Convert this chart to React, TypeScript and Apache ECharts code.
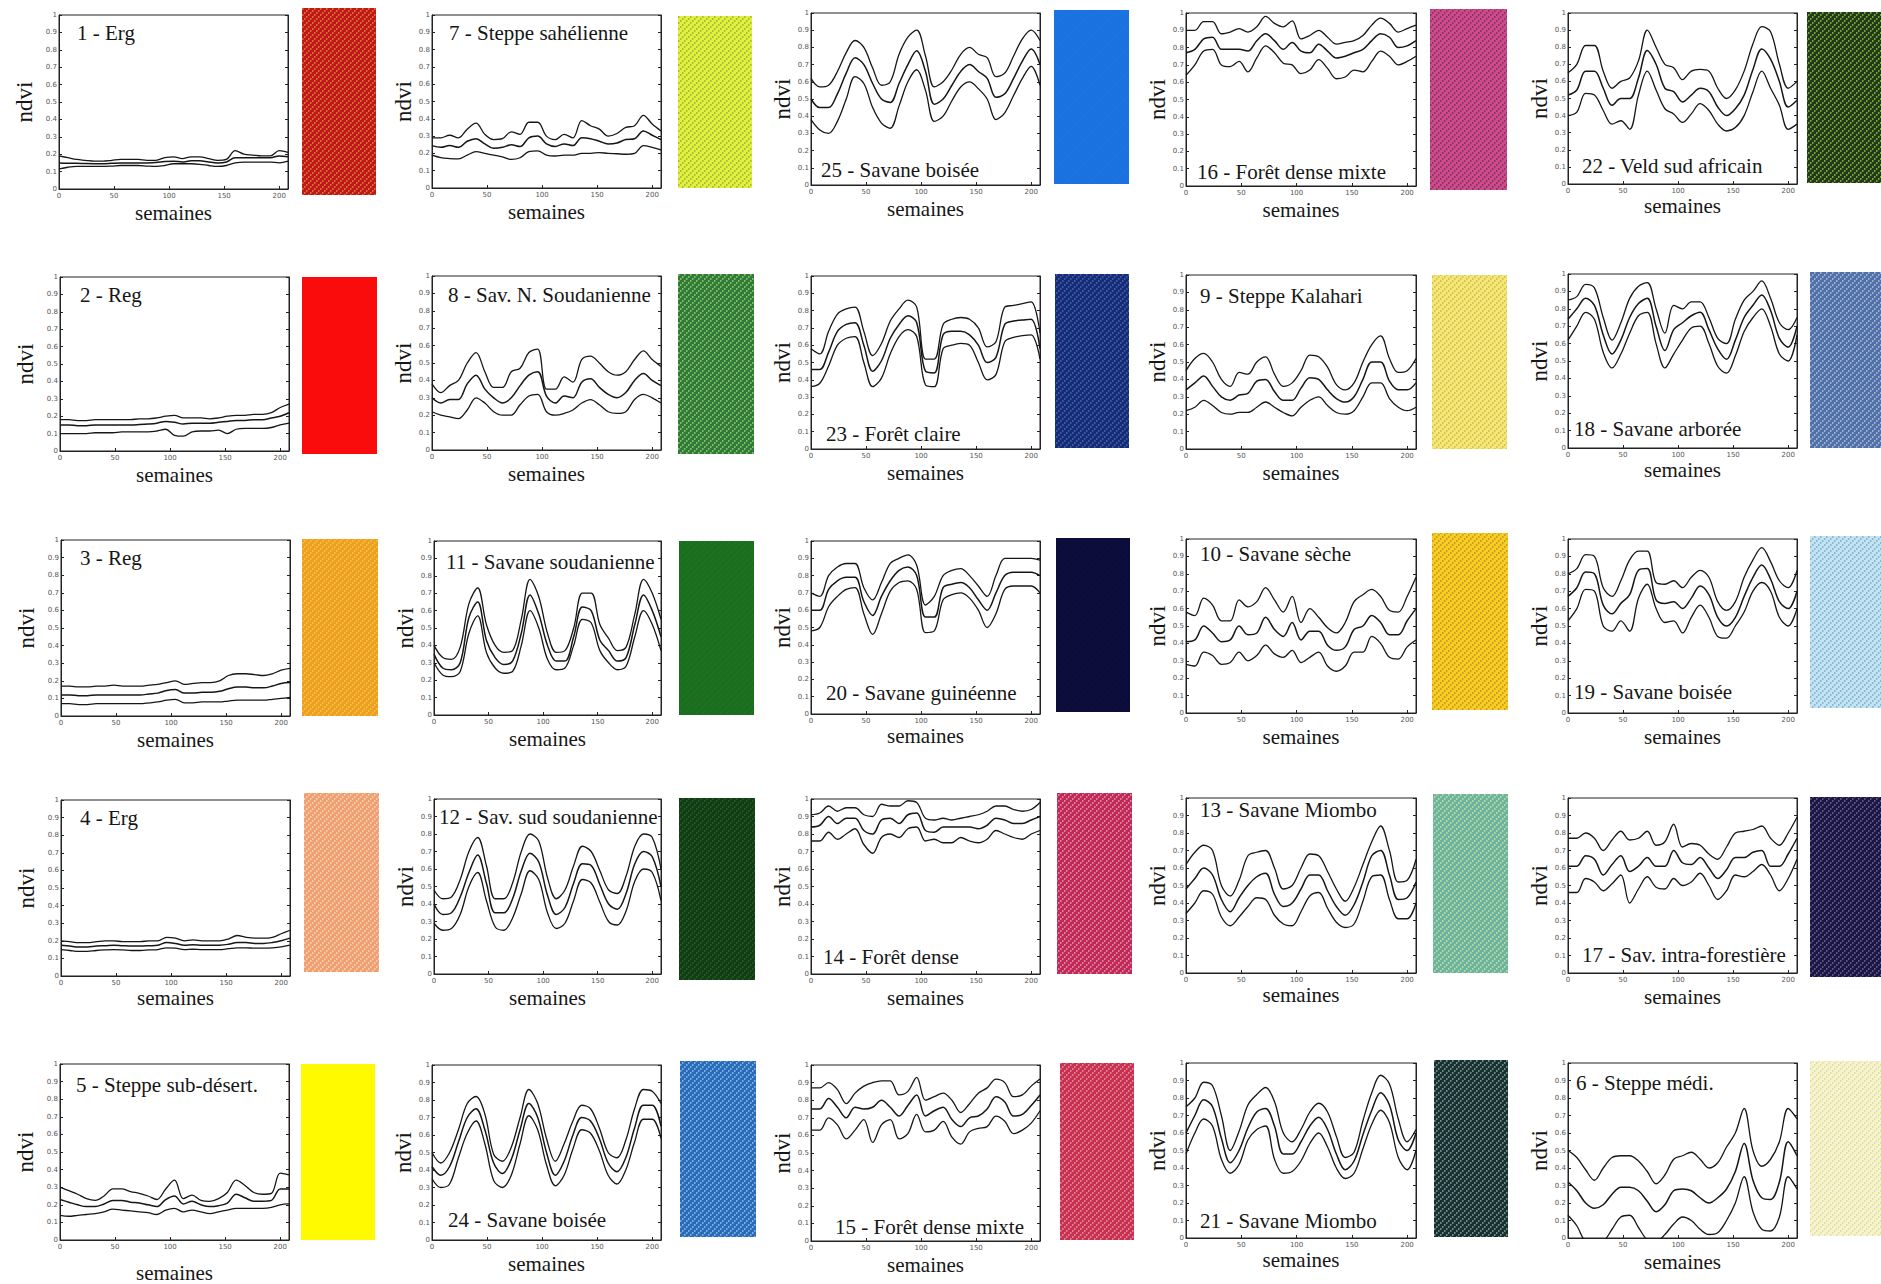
import React, { useEffect, useRef } from "react";
import * as echarts from "echarts";

// weeks sampled along the x axis (semaines)
const weeks = [0, 8, 16, 24, 32, 40, 48, 56, 64, 72, 80, 88, 96, 104, 112, 120, 128, 136, 144, 152, 160, 168, 176, 184, 192, 200, 208];
const xTicks = [0, 50, 100, 150, 200];

// ---- NDVI profiles: upper (mean+sd), mean, lower (mean-sd) ----
const z1Hi = [0.19, 0.18, 0.17, 0.165, 0.16, 0.16, 0.165, 0.17, 0.17, 0.17, 0.165, 0.165, 0.18, 0.185, 0.175, 0.185, 0.185, 0.175, 0.165, 0.17, 0.22, 0.2, 0.195, 0.19, 0.19, 0.22, 0.21];
const z1Mean = [0.15, 0.148, 0.148, 0.146, 0.145, 0.145, 0.148, 0.15, 0.15, 0.15, 0.15, 0.152, 0.158, 0.16, 0.155, 0.162, 0.162, 0.155, 0.15, 0.155, 0.18, 0.18, 0.18, 0.18, 0.18, 0.19, 0.185];
const z1Lo = [0.115, 0.125, 0.13, 0.13, 0.13, 0.13, 0.132, 0.135, 0.135, 0.135, 0.132, 0.13, 0.135, 0.145, 0.145, 0.145, 0.142, 0.135, 0.13, 0.135, 0.15, 0.155, 0.155, 0.155, 0.155, 0.15, 0.16];

const z2Hi = [0.18, 0.18, 0.175, 0.175, 0.18, 0.18, 0.18, 0.18, 0.18, 0.185, 0.185, 0.19, 0.2, 0.205, 0.19, 0.19, 0.19, 0.185, 0.19, 0.2, 0.205, 0.205, 0.21, 0.21, 0.22, 0.25, 0.27];
const z2Mean = [0.15, 0.15, 0.145, 0.145, 0.15, 0.15, 0.15, 0.15, 0.15, 0.152, 0.155, 0.16, 0.17, 0.165, 0.155, 0.16, 0.16, 0.16, 0.165, 0.17, 0.175, 0.175, 0.18, 0.18, 0.19, 0.2, 0.22];
const z2Lo = [0.1, 0.1, 0.1, 0.1, 0.105, 0.105, 0.105, 0.11, 0.11, 0.11, 0.11, 0.115, 0.125, 0.09, 0.085, 0.11, 0.115, 0.115, 0.12, 0.1, 0.125, 0.13, 0.13, 0.13, 0.135, 0.15, 0.16];

const z3Hi = [0.17, 0.17, 0.165, 0.165, 0.17, 0.17, 0.175, 0.17, 0.17, 0.17, 0.175, 0.18, 0.19, 0.2, 0.18, 0.185, 0.19, 0.19, 0.2, 0.23, 0.24, 0.24, 0.235, 0.23, 0.24, 0.26, 0.27];
const z3Mean = [0.12, 0.12, 0.115, 0.115, 0.12, 0.12, 0.12, 0.12, 0.12, 0.12, 0.125, 0.13, 0.145, 0.15, 0.13, 0.13, 0.135, 0.135, 0.14, 0.155, 0.165, 0.165, 0.16, 0.16, 0.17, 0.185, 0.19];
const z3Lo = [0.07, 0.07, 0.065, 0.065, 0.07, 0.07, 0.07, 0.07, 0.07, 0.07, 0.075, 0.08, 0.09, 0.095, 0.075, 0.075, 0.08, 0.08, 0.08, 0.085, 0.09, 0.09, 0.09, 0.09, 0.095, 0.1, 0.105];

const z4Hi = [0.2, 0.195, 0.19, 0.19, 0.195, 0.2, 0.2, 0.195, 0.195, 0.195, 0.2, 0.2, 0.22, 0.215, 0.2, 0.205, 0.2, 0.2, 0.2, 0.21, 0.23, 0.22, 0.215, 0.215, 0.22, 0.24, 0.26];
const z4Mean = [0.175, 0.17, 0.165, 0.165, 0.17, 0.172, 0.175, 0.172, 0.17, 0.17, 0.172, 0.175, 0.19, 0.185, 0.175, 0.178, 0.175, 0.175, 0.175, 0.18, 0.19, 0.19, 0.185, 0.185, 0.19, 0.2, 0.215];
const z4Lo = [0.15, 0.145, 0.14, 0.14, 0.145, 0.148, 0.15, 0.148, 0.145, 0.145, 0.148, 0.15, 0.16, 0.158, 0.15, 0.152, 0.15, 0.15, 0.15, 0.155, 0.16, 0.16, 0.158, 0.158, 0.16, 0.165, 0.175];

const z5Hi = [0.3, 0.28, 0.26, 0.235, 0.225, 0.25, 0.29, 0.29, 0.275, 0.265, 0.25, 0.23, 0.29, 0.34, 0.235, 0.255, 0.225, 0.22, 0.235, 0.27, 0.34, 0.31, 0.27, 0.26, 0.265, 0.38, 0.37];
const z5Mean = [0.23, 0.215, 0.2, 0.19, 0.19, 0.205, 0.225, 0.225, 0.215, 0.21, 0.2, 0.19, 0.23, 0.25, 0.205, 0.22, 0.2, 0.19, 0.195, 0.21, 0.26, 0.24, 0.22, 0.22, 0.225, 0.29, 0.29];
const z5Lo = [0.14, 0.135, 0.14, 0.145, 0.15, 0.16, 0.175, 0.17, 0.165, 0.16, 0.155, 0.145, 0.17, 0.18, 0.16, 0.17, 0.16, 0.15, 0.16, 0.17, 0.18, 0.18, 0.18, 0.18, 0.185, 0.2, 0.205];

const z6Hi = [0.5, 0.46, 0.39, 0.33, 0.4, 0.46, 0.47, 0.47, 0.44, 0.38, 0.31, 0.36, 0.45, 0.47, 0.49, 0.45, 0.4, 0.43, 0.52, 0.6, 0.74, 0.5, 0.41, 0.45, 0.55, 0.74, 0.68];
const z6Mean = [0.32, 0.27, 0.2, 0.17, 0.19, 0.25, 0.29, 0.29, 0.27, 0.21, 0.15, 0.19, 0.27, 0.28, 0.27, 0.23, 0.2, 0.23, 0.28, 0.38, 0.54, 0.33, 0.23, 0.22, 0.32, 0.55, 0.47];
const z6Lo = [0.13, 0.07, -0.02, -0.03, -0.02, 0.05, 0.12, 0.13, 0.06, -0.01, -0.02, 0.02, 0.08, 0.12, 0.1, 0.05, 0.02, 0.03, 0.1, 0.2, 0.35, 0.15, 0.05, 0.04, 0.12, 0.35, 0.28];

const z7Hi = [0.29, 0.29, 0.305, 0.29, 0.34, 0.375, 0.31, 0.28, 0.285, 0.325, 0.31, 0.38, 0.38, 0.3, 0.28, 0.31, 0.29, 0.39, 0.36, 0.34, 0.3, 0.315, 0.35, 0.36, 0.42, 0.37, 0.33];
const z7Mean = [0.245, 0.235, 0.245, 0.235, 0.27, 0.285, 0.255, 0.23, 0.235, 0.25, 0.24, 0.29, 0.3, 0.255, 0.24, 0.255, 0.245, 0.29, 0.285, 0.27, 0.255, 0.26, 0.28, 0.285, 0.33, 0.305, 0.28];
const z7Lo = [0.19, 0.175, 0.17, 0.168, 0.19, 0.21, 0.2, 0.19, 0.18, 0.165, 0.175, 0.21, 0.215, 0.19, 0.185, 0.19, 0.19, 0.2, 0.2, 0.205, 0.2, 0.198, 0.195, 0.2, 0.245, 0.235, 0.22];

const z8Hi = [0.38, 0.33, 0.37, 0.4, 0.5, 0.56, 0.45, 0.36, 0.36, 0.45, 0.47, 0.56, 0.58, 0.35, 0.35, 0.42, 0.39, 0.52, 0.54, 0.5, 0.45, 0.43, 0.45, 0.52, 0.57, 0.52, 0.48];
const z8Mean = [0.3, 0.27, 0.29, 0.29, 0.38, 0.43, 0.35, 0.3, 0.27, 0.3, 0.37, 0.43, 0.45, 0.31, 0.27, 0.31, 0.3, 0.39, 0.41, 0.36, 0.32, 0.3, 0.33, 0.4, 0.44, 0.4, 0.37];
const z8Lo = [0.22, 0.2, 0.19, 0.18, 0.23, 0.3, 0.27, 0.22, 0.2, 0.2, 0.26, 0.31, 0.32, 0.22, 0.2, 0.21, 0.23, 0.27, 0.29, 0.26, 0.22, 0.21, 0.22, 0.29, 0.32, 0.3, 0.27];

const z9Hi = [0.45, 0.52, 0.55, 0.5, 0.4, 0.36, 0.44, 0.43, 0.5, 0.53, 0.43, 0.36, 0.38, 0.45, 0.54, 0.53, 0.47, 0.37, 0.34, 0.38, 0.5, 0.6, 0.65, 0.52, 0.44, 0.45, 0.52];
const z9Mean = [0.34, 0.38, 0.42, 0.36, 0.3, 0.28, 0.31, 0.32, 0.39, 0.4, 0.33, 0.28, 0.28, 0.35, 0.41, 0.4, 0.34, 0.29, 0.27, 0.3, 0.4, 0.5, 0.5, 0.39, 0.34, 0.34, 0.38];
const z9Lo = [0.22, 0.24, 0.28, 0.25, 0.21, 0.2, 0.21, 0.21, 0.24, 0.27, 0.24, 0.21, 0.19, 0.24, 0.28, 0.3, 0.25, 0.21, 0.2, 0.22, 0.3, 0.38, 0.38, 0.29, 0.24, 0.22, 0.24];

const z10Hi = [0.58, 0.56, 0.66, 0.62, 0.53, 0.53, 0.65, 0.61, 0.64, 0.72, 0.65, 0.58, 0.67, 0.52, 0.6, 0.55, 0.49, 0.46, 0.52, 0.64, 0.68, 0.71, 0.67, 0.59, 0.58, 0.67, 0.78];
const z10Mean = [0.41, 0.42, 0.5, 0.46, 0.41, 0.42, 0.5, 0.45, 0.46, 0.55, 0.48, 0.44, 0.52, 0.42, 0.47, 0.47, 0.39, 0.36, 0.38, 0.48, 0.5, 0.56, 0.52, 0.45, 0.45, 0.53, 0.6];
const z10Lo = [0.28, 0.27, 0.35, 0.33, 0.28, 0.29, 0.35, 0.3, 0.33, 0.39, 0.34, 0.32, 0.36, 0.29, 0.32, 0.35, 0.27, 0.24, 0.27, 0.35, 0.35, 0.44, 0.4, 0.32, 0.31, 0.38, 0.42];

const z11Hi = [0.4, 0.33, 0.32, 0.39, 0.64, 0.73, 0.52, 0.4, 0.36, 0.37, 0.55, 0.78, 0.68, 0.47, 0.36, 0.37, 0.5, 0.7, 0.7, 0.52, 0.44, 0.37, 0.39, 0.58, 0.78, 0.7, 0.55];
const z11Mean = [0.35, 0.27, 0.26, 0.3, 0.56, 0.65, 0.43, 0.33, 0.29, 0.31, 0.47, 0.69, 0.58, 0.4, 0.31, 0.31, 0.45, 0.62, 0.6, 0.43, 0.37, 0.31, 0.33, 0.52, 0.69, 0.6, 0.45];
const z11Lo = [0.3, 0.23, 0.22, 0.25, 0.47, 0.57, 0.36, 0.27, 0.24, 0.25, 0.4, 0.6, 0.5, 0.32, 0.26, 0.27, 0.4, 0.55, 0.53, 0.37, 0.3, 0.26, 0.28, 0.45, 0.6, 0.52, 0.37];

const z12Hi = [0.48, 0.43, 0.44, 0.54, 0.7, 0.78, 0.62, 0.43, 0.43, 0.52, 0.7, 0.8, 0.76, 0.55, 0.43, 0.48, 0.62, 0.73, 0.7, 0.59, 0.48, 0.46, 0.56, 0.73, 0.8, 0.78, 0.6];
const z12Mean = [0.4, 0.34, 0.35, 0.44, 0.58, 0.68, 0.52, 0.35, 0.35, 0.43, 0.59, 0.69, 0.64, 0.45, 0.34, 0.38, 0.52, 0.63, 0.62, 0.51, 0.4, 0.37, 0.46, 0.63, 0.7, 0.67, 0.5];
const z12Lo = [0.29, 0.25, 0.26, 0.34, 0.5, 0.58, 0.42, 0.27, 0.25, 0.32, 0.46, 0.59, 0.54, 0.35, 0.26, 0.29, 0.42, 0.54, 0.52, 0.41, 0.3, 0.28, 0.36, 0.53, 0.6, 0.58, 0.42];

const z13Hi = [0.62, 0.69, 0.73, 0.7, 0.5, 0.44, 0.53, 0.67, 0.69, 0.7, 0.6, 0.48, 0.5, 0.6, 0.68, 0.67, 0.58, 0.48, 0.41, 0.49, 0.62, 0.75, 0.84, 0.7, 0.52, 0.53, 0.65];
const z13Mean = [0.48, 0.54, 0.6, 0.56, 0.42, 0.35, 0.43, 0.5, 0.55, 0.57, 0.45, 0.38, 0.4, 0.48, 0.56, 0.56, 0.47, 0.38, 0.33, 0.39, 0.52, 0.67, 0.7, 0.56, 0.42, 0.43, 0.52];
const z13Lo = [0.34, 0.4, 0.47, 0.45, 0.32, 0.27, 0.32, 0.38, 0.43, 0.42, 0.33, 0.28, 0.27, 0.35, 0.44, 0.46, 0.37, 0.29, 0.26, 0.28, 0.41, 0.55, 0.56, 0.42, 0.31, 0.31, 0.4];

const z14Hi = [0.91, 0.92, 0.96, 0.93, 0.95, 0.95, 0.91, 0.9, 0.97, 0.96, 0.96, 0.99, 0.98, 0.89, 0.88, 0.89, 0.88, 0.89, 0.9, 0.91, 0.93, 0.96, 0.96, 0.94, 0.93, 0.94, 0.98];
const z14Mean = [0.84, 0.85, 0.9, 0.86, 0.89, 0.89, 0.82, 0.8, 0.88, 0.89, 0.86, 0.91, 0.92, 0.82, 0.81, 0.84, 0.84, 0.84, 0.84, 0.83, 0.85, 0.89, 0.88, 0.86, 0.86, 0.88, 0.9];
const z14Lo = [0.76, 0.76, 0.81, 0.77, 0.8, 0.83, 0.74, 0.69, 0.78, 0.8, 0.78, 0.83, 0.84, 0.76, 0.77, 0.75, 0.75, 0.78, 0.76, 0.75, 0.77, 0.82, 0.8, 0.78, 0.77, 0.8, 0.82];

const z15Hi = [0.87, 0.87, 0.9, 0.86, 0.78, 0.84, 0.88, 0.9, 0.91, 0.91, 0.83, 0.85, 0.93, 0.8, 0.82, 0.84, 0.8, 0.73, 0.78, 0.84, 0.87, 0.92, 0.9, 0.82, 0.83, 0.88, 0.92];
const z15Mean = [0.75, 0.75, 0.81, 0.76, 0.7, 0.76, 0.75, 0.76, 0.8, 0.76, 0.71, 0.77, 0.83, 0.71, 0.74, 0.76, 0.69, 0.65, 0.7, 0.71, 0.75, 0.82, 0.79, 0.71, 0.72, 0.77, 0.83];
const z15Lo = [0.63, 0.63, 0.7, 0.66, 0.58, 0.63, 0.69, 0.56, 0.66, 0.69, 0.58, 0.61, 0.72, 0.62, 0.63, 0.68, 0.59, 0.55, 0.62, 0.64, 0.65, 0.71, 0.68, 0.61, 0.63, 0.67, 0.74];

const z16Hi = [0.9, 0.9, 0.95, 0.95, 0.88, 0.89, 0.91, 0.89, 0.92, 0.98, 0.94, 0.92, 0.955, 0.85, 0.87, 0.9, 0.86, 0.82, 0.83, 0.84, 0.87, 0.93, 0.97, 0.94, 0.89, 0.91, 0.93];
const z16Mean = [0.77, 0.79, 0.85, 0.86, 0.79, 0.79, 0.79, 0.78, 0.84, 0.88, 0.84, 0.79, 0.83, 0.78, 0.77, 0.82, 0.78, 0.74, 0.75, 0.77, 0.79, 0.84, 0.88, 0.86, 0.8, 0.81, 0.84];
const z16Lo = [0.64, 0.7, 0.78, 0.79, 0.7, 0.69, 0.72, 0.66, 0.74, 0.81, 0.77, 0.71, 0.7, 0.65, 0.67, 0.73, 0.68, 0.62, 0.63, 0.67, 0.66, 0.72, 0.78, 0.75, 0.7, 0.72, 0.75];

const z17Hi = [0.77, 0.77, 0.8, 0.77, 0.7, 0.76, 0.81, 0.76, 0.77, 0.81, 0.73, 0.75, 0.85, 0.72, 0.74, 0.73, 0.68, 0.65, 0.72, 0.8, 0.81, 0.82, 0.84, 0.77, 0.73, 0.8, 0.89];
const z17Mean = [0.61, 0.61, 0.67, 0.65, 0.56, 0.62, 0.67, 0.58, 0.61, 0.66, 0.61, 0.61, 0.7, 0.63, 0.62, 0.66, 0.6, 0.54, 0.59, 0.66, 0.66, 0.69, 0.7, 0.61, 0.61, 0.68, 0.77];
const z17Lo = [0.46, 0.46, 0.54, 0.52, 0.47, 0.51, 0.56, 0.4, 0.48, 0.55, 0.49, 0.48, 0.54, 0.5, 0.52, 0.57, 0.5, 0.42, 0.47, 0.56, 0.55, 0.58, 0.62, 0.56, 0.47, 0.54, 0.65];

const z18Hi = [0.85, 0.87, 0.94, 0.92, 0.75, 0.62, 0.72, 0.86, 0.93, 0.95, 0.8, 0.66, 0.82, 0.8, 0.84, 0.84, 0.75, 0.63, 0.6, 0.74, 0.85, 0.9, 0.96, 0.86, 0.72, 0.68, 0.75];
const z18Mean = [0.74, 0.8, 0.86, 0.82, 0.65, 0.54, 0.62, 0.75, 0.83, 0.86, 0.7, 0.56, 0.68, 0.72, 0.76, 0.78, 0.68, 0.57, 0.51, 0.62, 0.75, 0.82, 0.88, 0.79, 0.63, 0.58, 0.7];
const z18Lo = [0.62, 0.7, 0.78, 0.74, 0.55, 0.46, 0.54, 0.66, 0.76, 0.78, 0.6, 0.46, 0.54, 0.62, 0.69, 0.7, 0.6, 0.47, 0.43, 0.53, 0.67, 0.75, 0.8, 0.7, 0.54, 0.5, 0.65];

const z19Hi = [0.8, 0.83, 0.91, 0.9, 0.72, 0.67, 0.76, 0.88, 0.93, 0.93, 0.75, 0.74, 0.76, 0.72, 0.78, 0.82, 0.78, 0.64, 0.59, 0.64, 0.78, 0.88, 0.95, 0.87, 0.76, 0.72, 0.82];
const z19Mean = [0.67, 0.72, 0.81, 0.8, 0.62, 0.57, 0.63, 0.68, 0.82, 0.83, 0.65, 0.63, 0.64, 0.6, 0.66, 0.73, 0.68, 0.55, 0.5, 0.55, 0.67, 0.78, 0.85, 0.77, 0.64, 0.6, 0.7];
const z19Lo = [0.53, 0.6, 0.71, 0.7, 0.5, 0.47, 0.53, 0.47, 0.66, 0.74, 0.6, 0.52, 0.53, 0.46, 0.55, 0.62, 0.55, 0.44, 0.43, 0.5, 0.58, 0.7, 0.75, 0.7, 0.55, 0.5, 0.6];

const z20Hi = [0.7, 0.68, 0.8, 0.85, 0.87, 0.87, 0.73, 0.66, 0.76, 0.87, 0.9, 0.92, 0.86, 0.63, 0.68, 0.8, 0.83, 0.84, 0.8, 0.74, 0.68, 0.8, 0.9, 0.9, 0.9, 0.9, 0.89];
const z20Mean = [0.6, 0.6, 0.72, 0.77, 0.79, 0.79, 0.65, 0.57, 0.68, 0.77, 0.83, 0.85, 0.8, 0.56, 0.56, 0.73, 0.75, 0.76, 0.73, 0.66, 0.6, 0.7, 0.8, 0.82, 0.82, 0.82, 0.8];
const z20Lo = [0.48, 0.5, 0.62, 0.68, 0.72, 0.73, 0.58, 0.46, 0.58, 0.71, 0.76, 0.77, 0.72, 0.47, 0.48, 0.66, 0.69, 0.7, 0.67, 0.6, 0.5, 0.58, 0.72, 0.74, 0.74, 0.74, 0.7];

const z21Hi = [0.75, 0.8, 0.89, 0.87, 0.7, 0.5, 0.61, 0.76, 0.82, 0.86, 0.78, 0.6, 0.55, 0.62, 0.72, 0.77, 0.72, 0.58, 0.46, 0.49, 0.67, 0.83, 0.93, 0.88, 0.68, 0.55, 0.62];
const z21Mean = [0.6, 0.7, 0.79, 0.75, 0.57, 0.43, 0.5, 0.63, 0.72, 0.74, 0.64, 0.48, 0.48, 0.55, 0.64, 0.69, 0.62, 0.48, 0.39, 0.44, 0.59, 0.73, 0.83, 0.76, 0.56, 0.5, 0.6];
const z21Lo = [0.48, 0.6, 0.68, 0.64, 0.45, 0.37, 0.42, 0.56, 0.62, 0.64, 0.45, 0.37, 0.38, 0.44, 0.54, 0.6, 0.52, 0.4, 0.34, 0.37, 0.51, 0.65, 0.73, 0.66, 0.46, 0.39, 0.5];

const z22Hi = [0.65, 0.7, 0.81, 0.81, 0.66, 0.56, 0.6, 0.62, 0.72, 0.9, 0.8, 0.7, 0.68, 0.61, 0.66, 0.67, 0.66, 0.56, 0.5, 0.55, 0.66, 0.82, 0.92, 0.89, 0.7, 0.56, 0.6];
const z22Mean = [0.52, 0.55, 0.66, 0.66, 0.56, 0.46, 0.5, 0.5, 0.62, 0.78, 0.7, 0.56, 0.54, 0.48, 0.52, 0.56, 0.54, 0.45, 0.4, 0.44, 0.52, 0.67, 0.79, 0.73, 0.6, 0.45, 0.49];
const z22Lo = [0.4, 0.42, 0.53, 0.52, 0.43, 0.35, 0.37, 0.32, 0.52, 0.66, 0.55, 0.44, 0.41, 0.36, 0.41, 0.47, 0.43, 0.35, 0.31, 0.33, 0.4, 0.54, 0.66, 0.56, 0.46, 0.32, 0.35];

const z23Hi = [0.58, 0.55, 0.68, 0.78, 0.81, 0.82, 0.68, 0.54, 0.61, 0.74, 0.81, 0.86, 0.82, 0.52, 0.52, 0.72, 0.75, 0.76, 0.75, 0.7, 0.59, 0.62, 0.82, 0.83, 0.84, 0.85, 0.67];
const z23Mean = [0.46, 0.46, 0.56, 0.68, 0.72, 0.73, 0.6, 0.45, 0.51, 0.64, 0.72, 0.77, 0.73, 0.45, 0.44, 0.66, 0.68, 0.68, 0.66, 0.6, 0.5, 0.53, 0.72, 0.74, 0.745, 0.75, 0.58];
const z23Lo = [0.36, 0.38, 0.48, 0.6, 0.64, 0.65, 0.5, 0.36, 0.41, 0.55, 0.65, 0.69, 0.65, 0.37, 0.36, 0.58, 0.6, 0.61, 0.6, 0.5, 0.4, 0.43, 0.62, 0.645, 0.655, 0.66, 0.52];

const z24Hi = [0.5, 0.44, 0.5, 0.63, 0.78, 0.82, 0.72, 0.49, 0.45, 0.53, 0.7, 0.86, 0.78, 0.58, 0.45, 0.55, 0.68, 0.77, 0.75, 0.64, 0.5, 0.47, 0.57, 0.75, 0.86, 0.85, 0.78];
const z24Mean = [0.42, 0.37, 0.42, 0.56, 0.7, 0.75, 0.63, 0.44, 0.38, 0.46, 0.63, 0.78, 0.7, 0.5, 0.37, 0.45, 0.6, 0.7, 0.68, 0.58, 0.44, 0.39, 0.47, 0.64, 0.77, 0.77, 0.65];
const z24Lo = [0.35, 0.3, 0.32, 0.47, 0.61, 0.68, 0.55, 0.34, 0.3, 0.37, 0.55, 0.71, 0.63, 0.43, 0.31, 0.37, 0.52, 0.63, 0.61, 0.51, 0.37, 0.32, 0.4, 0.56, 0.69, 0.69, 0.58];

const z25Hi = [0.62, 0.57, 0.58, 0.66, 0.77, 0.84, 0.8, 0.68, 0.58, 0.6, 0.76, 0.86, 0.9, 0.75, 0.57, 0.6, 0.67, 0.76, 0.8, 0.76, 0.74, 0.63, 0.65, 0.75, 0.85, 0.9, 0.84];
const z25Mean = [0.5, 0.45, 0.45, 0.53, 0.65, 0.74, 0.7, 0.59, 0.5, 0.48, 0.59, 0.7, 0.78, 0.66, 0.47, 0.5, 0.58, 0.66, 0.7, 0.66, 0.62, 0.51, 0.53, 0.62, 0.72, 0.79, 0.7];
const z25Lo = [0.38, 0.32, 0.3, 0.37, 0.5, 0.63, 0.59, 0.45, 0.36, 0.33, 0.46, 0.6, 0.67, 0.55, 0.37, 0.4, 0.49, 0.57, 0.6, 0.56, 0.5, 0.38, 0.42, 0.52, 0.62, 0.69, 0.58];

// ---- panel captions and swatch colours ----
const titles = {
  1: "1 - Erg", 2: "2 - Reg", 3: "3 - Reg", 4: "4 - Erg", 5: "5 - Steppe sub-désert.",
  6: "6 - Steppe médi.", 7: "7 - Steppe sahélienne", 8: "8 - Sav. N. Soudanienne", 9: "9 - Steppe Kalahari",
  10: "10 - Savane sèche", 11: "11 - Savane soudanienne", 12: "12 - Sav. sud soudanienne", 13: "13 - Savane Miombo",
  14: "14 - Forêt dense", 15: "15 - Forêt dense mixte", 16: "16 - Forêt dense mixte", 17: "17 - Sav. intra-forestière",
  18: "18 - Savane arborée", 19: "19 - Savane boisée", 20: "20 - Savane guinéenne", 21: "21 - Savane Miombo",
  22: "22 - Veld sud africain", 23: "23 - Forêt claire", 24: "24 - Savane boisée", 25: "25 - Savane boisée",
};

const swatchColors = {
  1: ["#c0171a", "#e0a038"], 2: ["#fa0c0c", "#fa0c0c"], 3: ["#ee9e22", "#f8d448"], 4: ["#f0a070", "#fde2c8"],
  5: ["#fffa00", "#fffa00"], 6: ["#f6f4d0", "#dcd488"], 7: ["#e4ee3c", "#7aa838"], 8: ["#2e7a3a", "#b8e070"],
  9: ["#f2e67c", "#cbb420"], 10: ["#f0d020", "#d87028"], 11: ["#1a6e1e", "#1f7622"], 12: ["#123c14", "#2a6a2a"],
  13: ["#6cb49e", "#d8eca0"], 14: ["#c02858", "#eab4c8"], 15: ["#c83050", "#eaaabb"], 16: ["#d04a8a", "#5a2a5a"],
  17: ["#1c1640", "#7a78b8"], 18: ["#5070a8", "#c4d2e4"], 19: ["#c4e2f0", "#5ea6c8"], 20: ["#0c0c3a", "#0e0e40"],
  21: ["#1a3030", "#98c0b8"], 22: ["#1e3a1a", "#b8d840"], 23: ["#1a2a78", "#3a80b0"], 24: ["#2a6ab8", "#a0d8f0"],
  25: ["#1a72e0", "#1c76e6"],
};

type PanelDef = {
  id: number; hi: number[]; mean: number[]; lo: number[];
  box: number[]; sw: number[]; tpos: number[]; yGap: number; xGap: number;
};

// layout: plot box [left, top, right, bottom], swatch box, caption position
const panels: PanelDef[] = [
  { id: 1, hi: z1Hi, mean: z1Mean, lo: z1Lo, box: [59, 15, 288, 189], sw: [302, 8, 376, 195], tpos: [77, 33], yGap: 23, xGap: 13 },
  { id: 7, hi: z7Hi, mean: z7Mean, lo: z7Lo, box: [432, 15, 661, 188], sw: [678, 16, 752, 188], tpos: [449, 33], yGap: 17, xGap: 13 },
  { id: 25, hi: z25Hi, mean: z25Mean, lo: z25Lo, box: [811, 13, 1040, 185], sw: [1054, 10, 1129, 184], tpos: [821, 170], yGap: 17, xGap: 13 },
  { id: 16, hi: z16Hi, mean: z16Mean, lo: z16Lo, box: [1186, 13, 1416, 186], sw: [1430, 9, 1507, 190], tpos: [1197, 172], yGap: 17, xGap: 13 },
  { id: 22, hi: z22Hi, mean: z22Mean, lo: z22Lo, box: [1568, 13, 1797, 184], sw: [1807, 12, 1890, 183], tpos: [1582, 166], yGap: 17, xGap: 11 },

  { id: 2, hi: z2Hi, mean: z2Mean, lo: z2Lo, box: [60, 277, 289, 451], sw: [302, 277, 377, 454], tpos: [80, 295], yGap: 23, xGap: 13 },
  { id: 8, hi: z8Hi, mean: z8Mean, lo: z8Lo, box: [432, 276, 661, 450], sw: [678, 274, 754, 454], tpos: [448, 295], yGap: 17, xGap: 13 },
  { id: 23, hi: z23Hi, mean: z23Mean, lo: z23Lo, box: [811, 276, 1040, 449], sw: [1055, 274, 1129, 448], tpos: [826, 434], yGap: 17, xGap: 13 },
  { id: 9, hi: z9Hi, mean: z9Mean, lo: z9Lo, box: [1186, 275, 1416, 449], sw: [1432, 275, 1507, 449], tpos: [1200, 296], yGap: 17, xGap: 13 },
  { id: 18, hi: z18Hi, mean: z18Mean, lo: z18Lo, box: [1568, 274, 1797, 448], sw: [1810, 272, 1890, 448], tpos: [1574, 429], yGap: 17, xGap: 11 },

  { id: 3, hi: z3Hi, mean: z3Mean, lo: z3Lo, box: [61, 540, 290, 716], sw: [302, 539, 378, 716], tpos: [80, 558], yGap: 23, xGap: 13 },
  { id: 11, hi: z11Hi, mean: z11Mean, lo: z11Lo, box: [434, 541, 661, 715], sw: [679, 541, 754, 715], tpos: [446, 562], yGap: 17, xGap: 13 },
  { id: 20, hi: z20Hi, mean: z20Mean, lo: z20Lo, box: [811, 541, 1040, 714], sw: [1056, 538, 1130, 712], tpos: [826, 693], yGap: 17, xGap: 11 },
  { id: 10, hi: z10Hi, mean: z10Mean, lo: z10Lo, box: [1186, 539, 1416, 713], sw: [1432, 533, 1508, 710], tpos: [1200, 554], yGap: 17, xGap: 13 },
  { id: 19, hi: z19Hi, mean: z19Mean, lo: z19Lo, box: [1568, 539, 1797, 713], sw: [1810, 536, 1890, 708], tpos: [1574, 692], yGap: 17, xGap: 13 },

  { id: 4, hi: z4Hi, mean: z4Mean, lo: z4Lo, box: [61, 800, 290, 976], sw: [304, 793, 379, 972], tpos: [80, 818], yGap: 23, xGap: 11 },
  { id: 12, hi: z12Hi, mean: z12Mean, lo: z12Lo, box: [434, 799, 661, 974], sw: [679, 798, 755, 980], tpos: [439, 817], yGap: 17, xGap: 13 },
  { id: 14, hi: z14Hi, mean: z14Mean, lo: z14Lo, box: [811, 799, 1040, 974], sw: [1057, 793, 1132, 974], tpos: [823, 957], yGap: 17, xGap: 13 },
  { id: 13, hi: z13Hi, mean: z13Mean, lo: z13Lo, box: [1186, 798, 1416, 973], sw: [1433, 794, 1508, 973], tpos: [1200, 810], yGap: 17, xGap: 11 },
  { id: 17, hi: z17Hi, mean: z17Mean, lo: z17Lo, box: [1568, 798, 1797, 973], sw: [1810, 797, 1890, 977], tpos: [1582, 955], yGap: 17, xGap: 13 },

  { id: 5, hi: z5Hi, mean: z5Mean, lo: z5Lo, box: [60, 1064, 289, 1240], sw: [301, 1064, 375, 1240], tpos: [76, 1085], yGap: 23, xGap: 22 },
  { id: 24, hi: z24Hi, mean: z24Mean, lo: z24Lo, box: [432, 1065, 661, 1240], sw: [680, 1061, 756, 1237], tpos: [448, 1220], yGap: 17, xGap: 13 },
  { id: 15, hi: z15Hi, mean: z15Mean, lo: z15Lo, box: [811, 1065, 1040, 1241], sw: [1060, 1063, 1134, 1240], tpos: [835, 1227], yGap: 17, xGap: 13 },
  { id: 21, hi: z21Hi, mean: z21Mean, lo: z21Lo, box: [1186, 1063, 1416, 1238], sw: [1434, 1060, 1508, 1237], tpos: [1200, 1221], yGap: 17, xGap: 11 },
  { id: 6, hi: z6Hi, mean: z6Mean, lo: z6Lo, box: [1568, 1063, 1797, 1238], sw: [1810, 1061, 1890, 1236], tpos: [1576, 1083], yGap: 17, xGap: 13 },
];

const SERIF = '"Liberation Serif", "DejaVu Serif", serif';
const INK = "#161616";

function patternFill(base: string, dot: string) {
  const svg =
    `<svg xmlns='http://www.w3.org/2000/svg' width='6' height='6'>` +
    `<rect width='6' height='6' fill='${base}'/>` +
    `<rect x='0' y='4.3' width='1.5' height='1.3' fill='${dot}'/>` +
    `<rect x='2' y='2.3' width='1.5' height='1.3' fill='${dot}'/>` +
    `<rect x='4' y='0.3' width='1.5' height='1.3' fill='${dot}'/>` +
    `</svg>`;
  return {
    image: "data:image/svg+xml;charset=utf-8," + encodeURIComponent(svg),
    repeat: "repeat",
    imageWidth: 6,
    imageHeight: 6,
  };
}

function buildOption() {
  const grid: any[] = [];
  const xAxis: any[] = [];
  const yAxis: any[] = [];
  const series: any[] = [];
  const graphic: any[] = [];
  const axisLineStyle = { color: "#222", width: 1 };
  const tickLabel = { fontSize: 7, color: "#555", fontFamily: "DejaVu Sans" };

  panels.forEach((p, i) => {
    const [l, t, r, b] = p.box;
    grid.push({
      left: l, top: t, width: r - l, height: b - t,
      show: true, borderColor: "#222", borderWidth: 1,
      containLabel: false, outerBoundsMode: "none",
    });
    xAxis.push({
      type: "value", gridIndex: i, min: 0, max: 208, interval: 50,
      name: "semaines", nameLocation: "middle", nameGap: p.xGap,
      nameTextStyle: { fontFamily: SERIF, fontSize: 21, color: INK },
      axisLine: { show: true, onZero: false, lineStyle: axisLineStyle },
      axisTick: { show: true, inside: true, length: 3, lineStyle: axisLineStyle },
      axisLabel: {
        ...tickLabel, margin: 3, showMaxLabel: false,
        formatter: (v: number) => (xTicks.includes(v) ? String(v) : ""),
      },
      splitLine: { show: false },
    });
    yAxis.push({
      type: "value", gridIndex: i, min: 0, max: 1, interval: 0.1, position: "left",
      name: "ndvi", nameLocation: "middle", nameGap: p.yGap, nameRotate: 90,
      nameTextStyle: { fontFamily: SERIF, fontSize: 23, color: INK },
      axisLine: { show: true, onZero: false, lineStyle: axisLineStyle },
      axisTick: { show: true, inside: true, length: 3, lineStyle: axisLineStyle },
      axisLabel: {
        ...tickLabel, margin: 2,
        formatter: (v: number) => (v === 0 ? "0" : v >= 0.999 ? "1" : v.toFixed(1)),
      },
      splitLine: { show: false },
    });
    yAxis.push({
      type: "value", gridIndex: i, min: 0, max: 1, interval: 0.1, position: "right",
      axisLine: { show: true, onZero: false, lineStyle: axisLineStyle },
      axisTick: { show: true, inside: true, length: 3, lineStyle: axisLineStyle },
      axisLabel: { show: false },
      splitLine: { show: false },
    });
    const lines: [number[], number][] = [[p.hi, 1.3], [p.mean, 1.5], [p.lo, 1.3]];
    lines.forEach(([arr, w]) => {
      series.push({
        type: "line", xAxisIndex: i, yAxisIndex: 2 * i,
        data: weeks.map((wk, k) => [wk, arr[k]]),
        showSymbol: false, symbol: "none", smooth: 0.35, silent: true, clip: true,
        lineStyle: { color: INK, width: w },
      });
    });

    const [sx0, sy0, sx1, sy1] = p.sw;
    const [base, dot] = (swatchColors as any)[p.id];
    graphic.push({
      type: "rect", z: 50, silent: true,
      shape: { x: sx0, y: sy0, width: sx1 - sx0, height: sy1 - sy0 },
      style: { fill: base },
    });
    if (dot !== base) {
      graphic.push({
        type: "rect", z: 51, silent: true,
        shape: { x: sx0, y: sy0, width: sx1 - sx0, height: sy1 - sy0 },
        style: { fill: patternFill(base, dot) },
      });
    }
    graphic.push({
      type: "text", z: 60, silent: true,
      x: p.tpos[0], y: p.tpos[1],
      style: {
        text: (titles as any)[p.id], fontFamily: SERIF, fontSize: 21, fill: INK,
        verticalAlign: "middle", align: "left",
      },
    });
  });

  return {
    animation: false,
    backgroundColor: "#ffffff",
    grid, xAxis, yAxis, series, graphic,
  };
}

export default function App() {
  const ref = useRef<HTMLDivElement>(null);
  useEffect(() => {
    if (!ref.current) return;
    const chart = echarts.init(ref.current, null, { renderer: "svg" });
    chart.setOption(buildOption() as any);
    return () => chart.dispose();
  }, []);
  return (
    <div
      ref={ref}
      style={{ position: "absolute", left: 0, top: 0, width: 1881, height: 1284, background: "#fff" }}
    />
  );
}
